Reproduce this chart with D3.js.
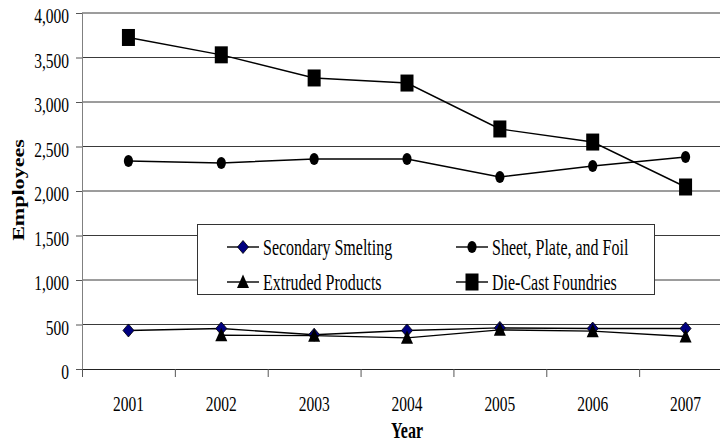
<!DOCTYPE html>
<html>
<head>
<meta charset="utf-8">
<script src="https://cdn.jsdelivr.net/npm/d3@7/dist/d3.min.js"></script>
<style>
  html, body { margin: 0; padding: 0; background: #fff; }
  svg { display: block; font-family: "Liberation Serif", "Times New Roman", serif; }
</style>
</head>
<body>
<svg id="chart" width="720" height="444"></svg>
<script>
// Aluminum industry employment by segment, 2001-2007
const years = ["2001", "2002", "2003", "2004", "2005", "2006", "2007"];
const secondarySmelting = [433, 455, 385, 433, 462, 455, 455];
const sheetPlateFoil = [2337, 2315, 2360, 2360, 2157, 2281, 2382];
const extrudedProducts = [null, 380, 375, 350, 440, 425, 365];
const dieCastFoundries = [3725, 3530, 3270, 3213, 2697, 2550, 2045];
const yTicks = [0, 500, 1000, 1500, 2000, 2500, 3000, 3500, 4000];

const seriesNames = ["Secondary Smelting", "Sheet, Plate, and Foil", "Extruded Products", "Die-Cast Foundries"];
const seriesValues = [secondarySmelting, sheetPlateFoil, extrudedProducts, dieCastFoundries];
const seriesMarkers = ["diamond", "circle", "triangle", "square"];

const svg = d3.select("#chart");
const SY = 1.38; // vertical stretch of lettering

const plotLeft = 82, plotRight = 732, plotTop = 13, plotBottom = 369;

const x = d3.scaleBand().domain(years).range([plotLeft, plotRight]).padding(0);
const y = d3.scaleLinear().domain([0, 4000]).range([plotBottom, plotTop]);
const fmt = d3.format(",");

// gridlines
svg.append("g").selectAll("line").data(yTicks.filter(d => d > 0)).join("line")
  .attr("x1", plotLeft).attr("x2", 720)
  .attr("y1", d => y(d)).attr("y2", d => y(d))
  .attr("stroke", "#3a3a3a").attr("stroke-width", 1);

// y axis
const yAxis = svg.append("g").attr("transform", `translate(${plotLeft},0)`)
  .call(d3.axisLeft(y).tickValues(yTicks).tickSize(6).tickFormat(""));
yAxis.select(".domain").attr("stroke", "#808080").attr("d", `M0.5,${plotTop}V${plotBottom + 8}`);
yAxis.selectAll(".tick line").attr("stroke", "#555");

// x axis
const xAxis = svg.append("g").attr("transform", `translate(0,${plotBottom})`)
  .call(d3.axisBottom(x).tickSize(0).tickFormat(""));
xAxis.select(".domain").attr("stroke", "#222").attr("d", `M${plotLeft},0.5H720`);
svg.append("g").selectAll("line").data(years).join("line")
  .attr("x1", d => x(d) + 0.5).attr("x2", d => x(d) + 0.5)
  .attr("y1", plotBottom).attr("y2", plotBottom + 8)
  .attr("stroke", "#555");

// stretched text helper
function label(g, txt, tx, ty, opts = {}) {
  const t = g.append("g")
    .attr("transform", `translate(${tx},${ty}) scale(1,${SY})` + (opts.rotate ? ` rotate(${opts.rotate})` : ""))
    .append("text")
    .attr("x", 0).attr("y", 0)
    .attr("text-anchor", opts.anchor || "middle")
    .attr("dominant-baseline", "central")
    .attr("font-size", opts.size || 15.5)
    .attr("fill", "#000")
    .text(txt);
  if (opts.bold) t.attr("font-weight", "bold");
  return t;
}

const labels = svg.append("g");
yTicks.forEach(v => label(labels, fmt(v), 69, y(v) + 3, { anchor: "end" }));
years.forEach(yr => label(labels, yr, x(yr) + x.bandwidth() / 2, 404));
label(labels, "Year", 407, 431, { bold: true, size: 16 });
label(labels, "Employees", 19, 190, { bold: true, size: 16, rotate: -90 });

// marker shapes
function drawMarker(g, kind, cx, cy) {
  if (kind === "square") {
    g.append("rect").attr("x", cx - 6.5).attr("y", cy - 8.5).attr("width", 13).attr("height", 17).attr("fill", "#000");
  } else if (kind === "circle") {
    g.append("ellipse").attr("cx", cx).attr("cy", cy).attr("rx", 4.6).attr("ry", 6).attr("fill", "#000");
  } else if (kind === "diamond") {
    g.append("path").attr("d", `M${cx},${cy - 6.5}L${cx + 5.5},${cy}L${cx},${cy + 6.5}L${cx - 5.5},${cy}Z`)
      .attr("fill", "#000080").attr("stroke", "#000").attr("stroke-width", 0.8);
  } else if (kind === "triangle") {
    g.append("path").attr("d", `M${cx},${cy - 7.5}L${cx + 6},${cy + 6}L${cx - 6},${cy + 6}Z`).attr("fill", "#000");
  }
}

// series
const line = d3.line()
  .defined(d => d.v != null)
  .x(d => x(d.yr) + x.bandwidth() / 2)
  .y(d => y(d.v));

const plot = svg.append("g");
seriesValues.forEach((vals, i) => {
  const pts = years.map((yr, j) => ({ yr, v: vals[j] }));
  const g = plot.append("g");
  g.append("path").datum(pts).attr("d", line)
    .attr("fill", "none").attr("stroke", "#000").attr("stroke-width", 1.4);
  pts.filter(p => p.v != null).forEach(p =>
    drawMarker(g, seriesMarkers[i], x(p.yr) + x.bandwidth() / 2, y(p.v)));
});

// legend
const lg = svg.append("g");
lg.append("rect").attr("x", 197.5).attr("y", 224.5).attr("width", 457).attr("height", 70)
  .attr("fill", "#fff").attr("stroke", "#333").attr("stroke-width", 1);
const legendPos = [
  { lx: 227, ly: 247 }, { lx: 456, ly: 247 },
  { lx: 227, ly: 282 }, { lx: 456, ly: 282 }
];
seriesNames.forEach((name, i) => {
  const p = legendPos[i];
  lg.append("line").attr("x1", p.lx).attr("x2", p.lx + 32).attr("y1", p.ly).attr("y2", p.ly)
    .attr("stroke", "#000").attr("stroke-width", 1.4);
  drawMarker(lg, seriesMarkers[i], p.lx + 16, p.ly);
  label(lg, name, p.lx + 36, p.ly + 1, { anchor: "start", size: 16 });
});
</script>
</body>
</html>
